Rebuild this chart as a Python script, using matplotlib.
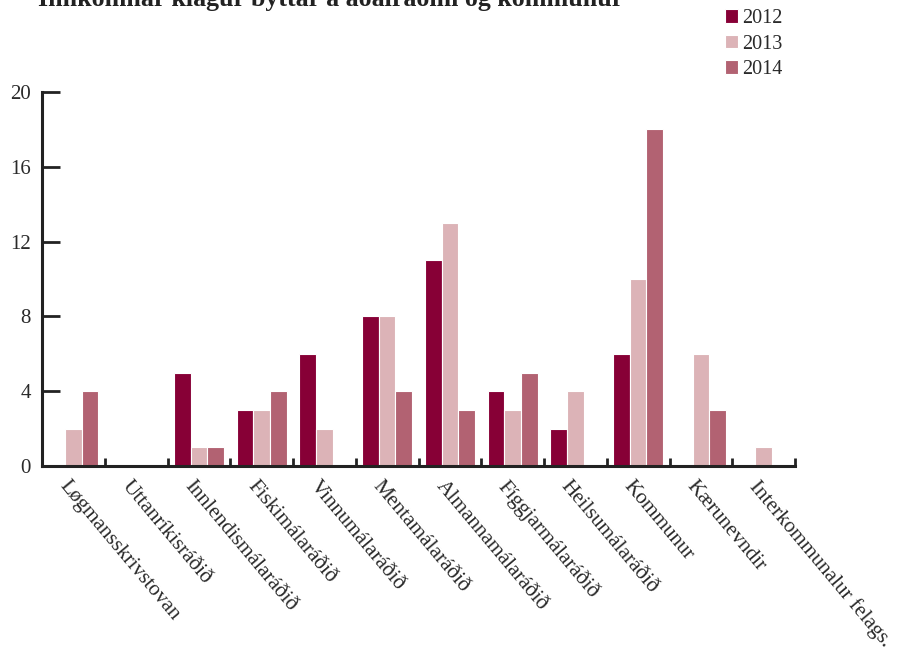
import matplotlib
matplotlib.use("Agg")
import matplotlib.pyplot as plt
import numpy as np

categories = ["Løgmansskrivstovan", "Uttanríkisráðið", "Innlendismálaráðið",
              "Fiskimálaráðið", "Vinnumálaráðið", "Mentamálaráðið",
              "Almannamálaráðið", "Fíggjarmálaráðið", "Heilsumálaráðið",
              "Kommunur", "Kærunevndir", "Interkommunalur felags."]
years = ["2012", "2013", "2014"]
v2012 = [0, 0, 5, 3, 6, 8, 11, 4, 2, 6, 0, 0]
v2013 = [2, 0, 1, 3, 2, 8, 13, 3, 4, 10, 6, 1]
v2014 = [4, 0, 1, 4, 0, 4, 3, 5, 0, 18, 3, 0]
colors = ["#870036", "#dcb3b7", "#b26272"]
yticks = [0, 4, 8, 12, 16, 20]

plt.rcParams['font.family'] = ['Liberation Serif', 'DejaVu Serif']

fig = plt.figure(figsize=(8.99, 6.52), dpi=100)
ax = fig.add_axes([42/899, 186/652, 753/899, 374/652])

x = np.arange(len(categories))
w = 0.265
for i, (vals, c, lab) in enumerate(zip([v2012, v2013, v2014], colors, years)):
    ax.bar(x + (i - 1) * w, vals, width=w, color=c, edgecolor='white',
           linewidth=0.8, label=lab, zorder=2)

ax.set_xlim(-0.5, len(categories) - 0.5)
ax.set_ylim(0, 20)
ax.set_yticks(yticks)
ax.set_yticklabels([str(t) for t in yticks], fontsize=15, color='#2a2a2a')
ax.tick_params(axis='y', direction='in', length=13, width=2, pad=8, color='#222222')

ax.set_xticks(np.arange(len(categories) + 1) - 0.5)
ax.set_xticklabels([])
ax.tick_params(axis='x', direction='in', length=6, width=2, color='#222222')

for s in ['top', 'right']:
    ax.spines[s].set_visible(False)
for s in ['left', 'bottom']:
    ax.spines[s].set_linewidth(2.2)
    ax.spines[s].set_color('#222222')

for xi, name in zip(x, categories):
    ax.text(xi - 0.06, -0.6, name, rotation=-50, rotation_mode='anchor',
            ha='left', va='top', fontsize=15.3, color='#2a2a2a',
            transform=ax.transData, clip_on=False)

fig.text(0.042, 1 - 6/652, "Innkomnar klagur býttar á aðalráðini og kommunur",
         fontsize=18.7, fontweight='bold', ha='left', va='baseline', color='#222222')

leg = ax.legend(loc='upper left', bbox_to_anchor=(716/899, 1.0), bbox_transform=fig.transFigure,
                frameon=False, fontsize=14.5, handlelength=0.65, handleheight=0.65,
                handletextpad=0.2, labelspacing=0.32, borderaxespad=0.05)
for t in leg.get_texts():
    t.set_color('#2a2a2a')

fig.savefig("out.png", dpi=100)
